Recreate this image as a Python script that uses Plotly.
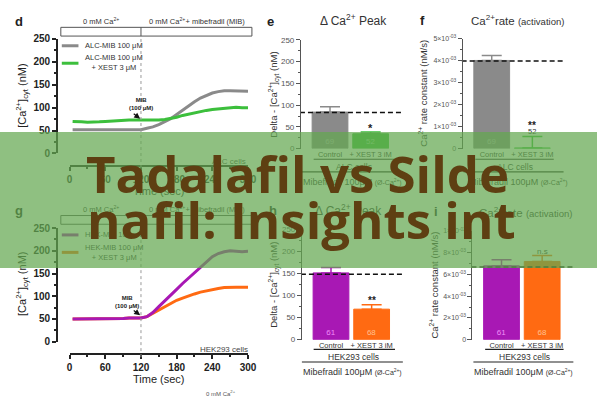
import plotly.graph_objects as go

W, H = 600, 400
FONT = "Liberation Sans, Arial, sans-serif"


def X(px):
    return px / W


def Y(py):
    return 1 - py / H


# ---------------- data ----------------
time_s = [5, 10, 20, 30, 40, 50, 60, 70, 80, 90, 100, 110, 120, 130, 140, 150, 160,
          170, 180, 190, 200, 210, 220, 230, 240, 250, 260, 270, 280, 290, 300]
alc_mib = [52, 52, 52, 51, 52, 52, 51, 52, 51, 51, 52, 52, 52, 55, 58, 63, 69, 76,
           85, 95, 104, 113, 121, 127, 132, 135, 137, 137, 137, 136, 136]
alc_mib_xest = [70, 70, 69, 68, 68, 69, 70, 71, 72, 72, 73, 73, 73, 72, 72, 73, 74,
                76, 79, 83, 86, 89, 92, 94, 96, 97, 99, 100, 101, 100, 100]
hek_mib = [50, 50, 50, 50, 50, 50, 50, 51, 51, 51, 52, 52, 52, 55, 64, 77, 89, 102,
           115, 128, 140, 153, 165, 177, 187, 194, 198, 200, 199, 198, 199]
hek_mib_xest = [50, 50, 50, 50, 50, 50, 50, 51, 51, 51, 52, 52, 52, 55, 62, 69, 77,
                84, 91, 96, 101, 105, 109, 112, 115, 117, 119, 120, 120, 120, 120]
time_ticks = [0, 60, 120, 180, 240, 300]
mib_time = 120

bar_categories = ["Control", "+ XEST 3 iM"]
alc_peak = [84, 34]
alc_peak_err = [12, 4]
alc_peak_n = ["69", "52"]
alc_peak_ref = 83
alc_rate = [4.02e-3, 0.03e-3]
alc_rate_err = [0.23e-3, 0.52e-3]
alc_rate_n = ["69", "52"]
alc_rate_ref = 4.0e-3
hek_peak = [151, 69]
hek_peak_err = [12, 10]
hek_peak_n = ["61", "68"]
hek_peak_ref = 148
hek_rate = [6.8e-3, 7.2e-3]
hek_rate_err = [0.55e-3, 0.55e-3]
hek_rate_n = ["61", "68"]
hek_rate_ref = 6.7e-3
rate_ticks_alc = [0, 1e-3, 2e-3, 3e-3, 4e-3, 5e-3]
rate_ticktext_alc = ["0"] + [f"{k}\u00d710<sup>-03</sup>" for k in (1, 2, 3, 4, 5)]
rate_ticks_hek = [0, 2e-3, 4e-3, 6e-3, 8e-3, 1e-2]
rate_ticktext_hek = ["0"] + [f"{k}\u00d710<sup>-03</sup>" for k in (2, 4, 6, 8)] + ["1\u00d710<sup>-02</sup>"]

GRAY = "#8a8a8a"
GREEN = "#3cbf3c"
PURPLE = "#a818b4"
ORANGE = "#ff6a12"

fig = go.Figure()

# ---------------- trace panels ----------------
fig.add_trace(go.Scatter(x=time_s, y=alc_mib, xaxis="x", yaxis="y", mode="lines",
                         line=dict(color=GRAY, width=3)))
fig.add_trace(go.Scatter(x=time_s, y=alc_mib_xest, xaxis="x", yaxis="y", mode="lines",
                         line=dict(color=GREEN, width=3)))
fig.add_trace(go.Scatter(x=time_s, y=hek_mib_xest, xaxis="x4", yaxis="y4", mode="lines",
                         line=dict(color=ORANGE, width=3)))
fig.add_trace(go.Scatter(x=time_s, y=hek_mib, xaxis="x4", yaxis="y4", mode="lines",
                         line=dict(color=PURPLE, width=3)))


# ---------------- bar panels ----------------
def add_bars(xa, ya, vals, errs, ns, colors, ncolors, ref, show_text=(True, True)):
    for i in range(2):
        fig.add_trace(go.Bar(
            x=[i], y=[vals[i]], width=0.88, xaxis=xa, yaxis=ya,
            marker=dict(color=colors[i], line=dict(color=colors[i], width=1)),
            error_y=dict(type="data", array=[errs[i]], arrayminus=[0], symmetric=False,
                         color=colors[i], thickness=1.5, width=10),
            text=[ns[i] if show_text[i] else ""], textposition="inside",
            insidetextanchor="start", textangle=0,
            textfont=dict(size=8, color=ncolors[i], family=FONT), cliponaxis=False))
    fig.add_trace(go.Scatter(x=[-0.74, 1.77], y=[ref, ref], xaxis=xa, yaxis=ya, mode="lines",
                             line=dict(color="#111", width=1.5, dash="5px,3px")))


add_bars("x2", "y2", alc_peak, alc_peak_err, alc_peak_n, [GRAY, GREEN],
         ["#bdbdbd", "#9be89b"], alc_peak_ref)
add_bars("x3", "y3", alc_rate, alc_rate_err, alc_rate_n, [GRAY, GREEN],
         ["#bdbdbd", "#9be89b"], alc_rate_ref, show_text=(True, False))
add_bars("x5", "y5", hek_peak, hek_peak_err, hek_peak_n, [PURPLE, ORANGE],
         ["#f08cf8", "#ffc090"], hek_peak_ref)
add_bars("x6", "y6", hek_rate, hek_rate_err, hek_rate_n, [PURPLE, ORANGE],
         ["#f08cf8", "#ffc090"], hek_rate_ref)

# ---------------- axes ----------------
def trace_x(pos_py):
    return dict(domain=[X(68), X(250)], range=[0, 300], anchor="free", position=Y(pos_py),
                showline=True, linecolor="#222", linewidth=1.5, ticks="outside", ticklen=4,
                tickwidth=1.5, tickcolor="#222", tickvals=time_ticks, showgrid=False,
                zeroline=False, tickfont=dict(size=10, color="#222", family=FONT, weight="bold"),
                minor=dict(ticks="outside", ticklen=2, dtick=30, tickcolor="#222"))


def trace_y(top, bottom):
    return dict(domain=[Y(bottom), Y(top)], range=[0, 250], anchor="free", position=X(55),
                showline=True, linecolor="#222", linewidth=1.5, ticks="outside", ticklen=4,
                tickwidth=1.5, tickcolor="#222", dtick=50, showgrid=False, zeroline=False,
                tickfont=dict(size=10, color="#222", family=FONT, weight="bold"),
                minor=dict(ticks="outside", ticklen=2, dtick=25, tickcolor="#222"))


def bar_x(anchor, left):
    return dict(domain=[X(left), X(left + 107)], range=[-0.74, 1.84], anchor=anchor,
                showline=False, showgrid=False, zeroline=False, tickvals=[0, 1],
                ticktext=bar_categories, ticks="",
                tickfont=dict(size=7.5, color="#333", family=FONT))


def bar_y(pos, top, bottom, rng, **kw):
    d = dict(domain=[Y(bottom), Y(top)], range=rng, anchor="free", position=X(pos),
             showline=True, linecolor="#555", linewidth=1, ticks="outside", ticklen=4,
             tickcolor="#555", showgrid=False, zeroline=False,
             tickfont=dict(size=8, color="#555", family=FONT))
    d.update(kw)
    return d


layout_axes = dict(
    xaxis=trace_x(165), yaxis=trace_y(34, 152),
    xaxis4=trace_x(359), yaxis4=trace_y(229, 346),
    xaxis2=bar_x("y2", 303),
    yaxis2=bar_y(303, 35, 147, [0, 250], dtick=50,
                 minor=dict(ticks="outside", ticklen=2, dtick=25, tickcolor="#555")),
    xaxis3=bar_x("y3", 468),
    yaxis3=bar_y(468, 34, 147, [0, 5e-3], tickvals=rate_ticks_alc, ticktext=rate_ticktext_alc,
                 tickfont=dict(size=7, color="#555", family=FONT),
                 minor=dict(ticks="outside", ticklen=2, dtick=0.5e-3, tickcolor="#555")),
    xaxis5=bar_x("y5", 304),
    yaxis5=bar_y(304, 230, 344, [0, 250], dtick=50,
                 minor=dict(ticks="outside", ticklen=2, dtick=25, tickcolor="#555")),
    xaxis6=bar_x("y6", 478),
    yaxis6=bar_y(478, 232, 344, [0, 1e-2], tickvals=rate_ticks_hek, ticktext=rate_ticktext_hek,
                 tickfont=dict(size=7, color="#555", family=FONT),
                 minor=dict(ticks="outside", ticklen=2, dtick=1e-3, tickcolor="#555")),
)

# ---------------- shapes ----------------
shapes = []


def pline(x0, y0, x1, y1, color="#333", width=1, dash="solid"):
    shapes.append(dict(type="line", xref="paper", yref="paper", x0=X(x0), y0=Y(y0),
                       x1=X(x1), y1=Y(y1), line=dict(color=color, width=width, dash=dash),
                       layer="above"))


for (xa, top, bot, dot_end) in (("x", 22, 31, 167), ("x4", 216, 225, 362)):
    shapes.append(dict(type="rect", xref="paper", yref="paper", x0=X(59), x1=X(254),
                       y0=Y(bot), y1=Y(top), line=dict(color="#555", width=1), layer="above"))
    shapes.append(dict(type="line", xref=xa, yref="paper", x0=mib_time, x1=mib_time,
                       y0=Y(bot), y1=Y(top), line=dict(color="#555", width=1), layer="above"))
    shapes.append(dict(type="line", xref=xa, yref="paper", x0=mib_time, x1=mib_time,
                       y0=Y(dot_end), y1=Y(bot), line=dict(color="#999", width=1, dash="dot"),
                       layer="above"))

# legend samples
pline(60, 41, 77, 41, GRAY, 3)
pline(60, 59, 77, 59, GREEN, 3)
pline(60, 236, 77, 236, PURPLE, 3)
pline(60, 254, 77, 254, ORANGE, 3)

# group lines under bar panels
for (l1, r1, l2, r2, ya, yb) in ((317, 400, 305, 408, 158, 171), (482, 562, 470, 572, 158, 171),
                                 (317, 400, 305, 408, 354, 367), (492, 572, 480, 582, 354, 367)):
    pline(l1, ya, r1, ya, "#222", 1.2)
    pline(l2, yb, r2, yb, "#222", 1.2)

# ---------------- annotations ----------------
ann = []


def txt(x, y, s, size=8, color="#333", bold=False, xanchor="center", angle=0, family=FONT):
    ann.append(dict(x=X(x), y=Y(y), xref="paper", yref="paper", text=s, showarrow=False,
                    xanchor=xanchor, yanchor="middle", textangle=angle,
                    font=dict(size=size, color=color, family=family,
                              weight="bold" if bold else "normal")))


def dtxt(xa, ya, x, y, s, size=8, color="#222", bold=False):
    ann.append(dict(x=x, y=y, xref=xa, yref=ya, text=s, showarrow=False, xanchor="center",
                    yanchor="middle", font=dict(size=size, color=color, family=FONT,
                                                weight="bold" if bold else "normal")))


# panel letters
for (x, y, s) in ((16, 16, "d"), (273, 16, "e"), (428, 15, "f"),
                  (16, 211, "g"), (275, 211, "h"), (442, 212, "i")):
    txt(x, y, s, 13, "#222", True)

# trace panel headers
for yy in (15, 209):
    txt(100, yy, "0 mM Ca<sup>2+</sup>", 7.5, "#333")
    txt(198, yy, "0 mM Ca<sup>2+</sup>+ mibefradil (MIB)", 7.5, "#333")

# legends
txt(82, 41, "ALC-MIB 100 \u03bcM", 7.5, "#333", xanchor="left")
txt(82, 58, "ALC-MIB 100 \u03bcM<br>+ XEST 3 \u03bcM", 7.5, "#333", xanchor="left")
txt(82, 236, "HEK-MIB 100 \u03bcM", 7.5, "#333", xanchor="left")
txt(82, 254, "HEK-MIB 100 \u03bcM<br>+ XEST 3 \u03bcM", 7.5, "#333", xanchor="left")

# y titles
ytitle = "[Ca<sup>2+</sup>]<sub>cyt</sub> (nM)"
txt(20, 93, ytitle, 11, "#222", angle=-90)
txt(20, 287, ytitle, 11, "#222", angle=-90)
dtitle = "Delta - [Ca<sup>2+</sup>]<sub>cyt</sub> (nM)"
txt(277, 91, dtitle, 9.5, "#333", angle=-90)
txt(277, 287, dtitle, 9.5, "#333", angle=-90)
rtitle = "Ca<sup>2+</sup> rate constant (nM/s)"
txt(429, 90, rtitle, 9.5, "#333", angle=-90)
txt(440, 288, rtitle, 9.5, "#333", angle=-90)

# x titles / cell labels
txt(159, 191, "Time (sec)", 11, "#222")
txt(159, 385, "Time (sec)", 11, "#222")
txt(231, 160, "ALC cells", 8, "#444")
txt(225, 354, "HEK293 cells", 8, "#444")

# MIB markers
for (xa, ya, tip_y, tx, ty) in (("x", "y", 76, 141, 101), ("x4", "y4", 58, 127, 305)):
    txt(tx, ty, "MIB<br>(100 \u03bcM)", 6, "#222", True)
    ann.append(dict(x=118.7, y=tip_y, xref=xa, yref=ya, text="", showarrow=True, ax=-8, ay=-6,
                    arrowhead=2, arrowsize=1, arrowwidth=1.2, arrowcolor="#111"))

# bar panel titles
for (x, y) in ((358, 14), (353, 210)):
    txt(x, y, "\u0394 Ca<sup>2+</sup> Peak", 12, "#333")
for (x, y) in ((525, 14), (533, 212)):
    txt(x, y, "Ca<sup>2+</sup>rate <span style='font-size:9.5px'>(activation)</span>", 11.5, "#333")

mib_label = "Mibefradil 100\u03bcM <span style='font-size:7px'>(\u00d8-Ca<sup>2+</sup>)</span>"
txt(358, 166, "ALC cells", 8.5, "#333")
txt(522, 166, "ALC cells", 8.5, "#333")
txt(357, 181, mib_label, 9, "#333")
txt(526, 181, mib_label, 9, "#333")
txt(358, 362, "HEK293 cells", 8.5, "#333")
txt(532, 362, "HEK293 cells", 8.5, "#333")
txt(357, 377, mib_label, 9, "#333")
txt(531, 377, mib_label, 9, "#333")

# significance / n labels
dtxt("x2", "y2", 1, 47, "*", 11, "#222", True)
dtxt("x3", "y3", 1, 1.06e-3, "**", 10, "#222", True)
dtxt("x3", "y3", 1, 0.76e-3, alc_rate_n[1], 7.5, "#333")
dtxt("x5", "y5", 1, 89, "**", 10, "#222", True)
dtxt("x6", "y6", 1, 8.15e-3, "n.s", 8, "#333")

# cut-off header at bottom edge
txt(222, 399, "0 mM Ca<sup>2+</sup>", 6, "#555")

# ---------------- banner overlay ----------------
ann.append(dict(x=0.5, y=Y(200), xref="paper", yref="paper", text=" ", showarrow=False,
                width=600, height=136, bgcolor="rgba(100,168,80,0.72)", borderpad=0,
                borderwidth=0, xanchor="center", yanchor="middle"))
BANNER_FONT = "Open Sans, Noto Sans, sans-serif"
ann.append(dict(x=X(301), y=Y(172), xref="paper", yref="paper", text="Tadalafil vs Silde",
                showarrow=False, xanchor="center", yanchor="middle",
                font=dict(size=51, color="#5e3f12", family=BANNER_FONT, weight="bold")))
ann.append(dict(x=X(305), y=Y(220), xref="paper", yref="paper", text="nafil: Insights int",
                showarrow=False, xanchor="center", yanchor="middle",
                font=dict(size=51, color="#5e3f12", family=BANNER_FONT, weight="bold")))

fig.update_layout(width=W, height=H, margin=dict(l=0, r=0, t=0, b=0), showlegend=False,
                  paper_bgcolor="white", plot_bgcolor="white", barmode="overlay",
                  font=dict(family=FONT), shapes=shapes, annotations=ann, **layout_axes)

fig.write_html("out.html")
